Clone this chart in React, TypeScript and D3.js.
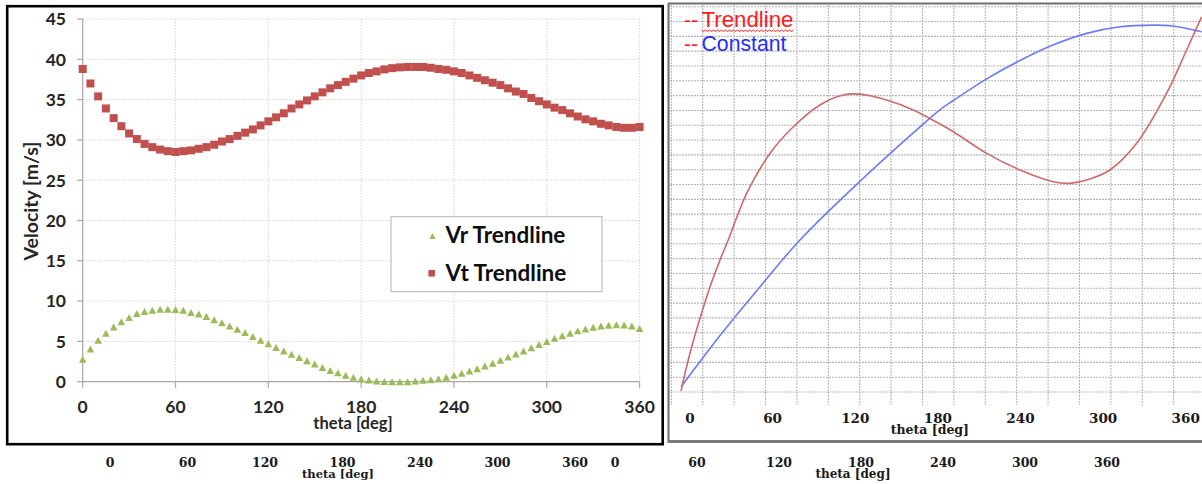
import React from "react";
import * as d3 from "d3";

// ---------- Left chart data ----------
const thetaDeg = [
  0, 5, 10, 15, 20, 25, 30, 35, 40, 45, 50, 55, 60, 65, 70, 75, 80, 85, 90, 95,
  100, 105, 110, 115, 120, 125, 130, 135, 140, 145, 150, 155, 160, 165, 170, 175,
  180, 185, 190, 195, 200, 205, 210, 215, 220, 225, 230, 235, 240, 245, 250, 255,
  260, 265, 270, 275, 280, 285, 290, 295, 300, 305, 310, 315, 320, 325, 330, 335,
  340, 345, 350, 355, 360,
];
const vrTrendline = [
  2.8, 4.05, 5.15, 6.0, 6.8, 7.45, 7.95, 8.45, 8.7, 8.85, 9.0, 9.0, 8.95, 8.85, 8.6, 8.4, 8.1, 7.7, 7.3, 6.9,
  6.5, 6.1, 5.6, 5.15, 4.7, 4.25, 3.8, 3.4, 3.0, 2.6, 2.2, 1.76, 1.4, 1.1, 0.8, 0.55,
  0.35, 0.2, 0.1, 0.02, 0.0, 0.0, 0.0, 0.08, 0.17, 0.25, 0.37, 0.54, 0.8, 1.05, 1.33, 1.62,
  1.95, 2.3, 2.65, 3.05, 3.45, 3.8, 4.2, 4.6, 5.0, 5.38, 5.7, 6.0, 6.33, 6.55, 6.75, 6.9,
  7.0, 7.07, 7.03, 6.9, 6.6,
];
const vtTrendline = [
  38.8, 37.0, 35.4, 33.9, 32.7, 31.7, 30.8, 30.1, 29.5, 29.1, 28.8, 28.6, 28.5, 28.6, 28.7, 28.9, 29.1, 29.4, 29.8, 30.1,
  30.5, 30.9, 31.3, 31.8, 32.3, 32.8, 33.3, 33.9, 34.4, 34.9, 35.4, 35.9, 36.4, 36.8, 37.2, 37.6,
  38.0, 38.3, 38.5, 38.75, 38.9, 39.0, 39.05, 39.05, 39.05, 38.95, 38.8, 38.7, 38.5, 38.3, 38.0, 37.7,
  37.4, 37.1, 36.8, 36.4, 36.0, 35.7, 35.2, 34.8, 34.4, 34.0, 33.7, 33.3, 32.9, 32.55, 32.3, 32.0,
  31.8, 31.6, 31.5, 31.5, 31.6,
];
const yTicks = [0, 5, 10, 15, 20, 25, 30, 35, 40, 45];
const xTicks = [0, 60, 120, 180, 240, 300, 360];
const legendLabels = ["Vr Trendline", "Vt Trendline"];

// ---------- Right chart data ----------
const trendTheta = [0, 6.5, 13.8, 21.1, 28.3, 34.3, 47.7, 64.6, 81.6, 100.9, 117.9, 130, 149.4, 168.7, 179.4, 197.8, 222, 246.2, 270.4, 282.5, 294.6, 311.5, 330.9, 352.7, 367.2, 378.1];
const trendValues = [0.07, 2.61, 4.97, 7.1, 8.9, 10.26, 13.4, 16.1, 17.9, 19.37, 20.04, 20.1, 19.7, 19.03, 18.52, 17.56, 16.1, 14.98, 14.19, 14.08, 14.3, 14.98, 16.78, 20.16, 23.08, 25.32];
const constTheta = [0, 29.6, 57.4, 86.4, 130, 173.6, 188, 197.8, 222, 246.2, 270.1, 294.6, 318.8, 342.8, 357.3, 378.1];
const constValues = [0.34, 3.96, 7.1, 10.26, 14.22, 17.89, 19.04, 19.67, 21.13, 22.37, 23.41, 24.2, 24.65, 24.76, 24.7, 24.31];
const rightRows = d3.range(0, 27);
const rightCols = d3.range(0, 17);

const SERIF = "'DejaVu Serif', serif";
const LATO = "Lato, 'Open Sans', sans-serif";
const ARIAL = "'Liberation Sans', Arial, sans-serif";

function triPath(w: number, h: number) {
  return `M0,${-h / 2}L${w / 2},${h / 2}L${-w / 2},${h / 2}Z`;
}

export default function App() {
  const W = 1202;
  const H = 484;

  // left chart scales
  const x = d3.scaleLinear().domain([0, 360]).range([82.7, 639.6]);
  const y = d3.scaleLinear().domain([0, 45]).range([381.7, 19]);

  // right chart scales
  const rx = d3.scaleLinear().domain([0, 360]).range([681, 1176.7]);
  const ry = d3.scaleLinear().domain([0, 26]).range([392, 6.7]);
  const gx = d3.scaleLinear().domain([0, 16]).range([671.3, 1173.7]);

  const rLine = d3
    .line<number>()
    .x((_, i) => rx(trendTheta[i]))
    .y((d) => ry(d))
    .curve(d3.curveCatmullRom);
  const cLine = d3
    .line<number>()
    .x((_, i) => rx(constTheta[i]))
    .y((d) => ry(d))
    .curve(d3.curveCatmullRom);

  // bottom duplicated axes
  const b1 = d3.scaleLinear().domain([0, 360]).range([110, 575]);
  const b2 = d3.scaleLinear().domain([0, 360]).range([615, 1107]);

  // wavy underline (spell-check squiggle)
  const wave = d3.range(0, 47).map((i) => [701.5 + i * 2, 30.8 + (i % 2 === 0 ? -1.1 : 1.1)] as [number, number]);
  const waveLine = d3.line().curve(d3.curveLinear)(wave) as string;

  const sq = 8;

  return (
    <svg
      width={W}
      height={H}
      style={{ position: "absolute", left: 0, top: 0, background: "#fff", display: "block" }}
    >
      <rect x={0} y={0} width={W} height={H} fill="#fff" />

      {/* ================= LEFT CHART ================= */}
      <rect x={7.2} y={6.2} width={655.5} height={438} fill="#fff" stroke="#000" strokeWidth={2.6} />

      {/* gridlines */}
      {yTicks.filter((t) => t > 0).map((t) => (
        <line key={"hy" + t} x1={x(0)} x2={x(360)} y1={y(t)} y2={y(t)} stroke="#d4d4d4" strokeWidth={1} strokeDasharray="1.5,1.5" />
      ))}
      {xTicks.filter((t) => t > 0).map((t) => (
        <line key={"vx" + t} x1={x(t)} x2={x(t)} y1={y(45)} y2={y(0)} stroke="#d4d4d4" strokeWidth={1} strokeDasharray="1.5,1.5" />
      ))}
      {/* axes */}
      <line x1={x(0)} x2={x(0)} y1={y(45)} y2={y(0)} stroke="#a6a6a6" strokeWidth={1.2} />
      <line x1={x(0)} x2={x(360)} y1={y(0)} y2={y(0)} stroke="#a6a6a6" strokeWidth={1.2} />
      {yTicks.map((t) => (
        <line key={"ty" + t} x1={x(0) - 5.5} x2={x(0)} y1={y(t)} y2={y(t)} stroke="#a6a6a6" strokeWidth={1.2} />
      ))}
      {xTicks.map((t) => (
        <line key={"tx" + t} x1={x(t)} x2={x(t)} y1={y(0)} y2={y(0) + 6} stroke="#a6a6a6" strokeWidth={1.2} />
      ))}
      {/* tick labels */}
      {yTicks.map((t) => (
        <text key={"ly" + t} x={66} y={y(t)} dy="0.36em" textAnchor="end" fontFamily={LATO} fontWeight={700} fontSize={17.5} fill="#262626">
          {t}
        </text>
      ))}
      {xTicks.map((t) => (
        <text key={"lx" + t} x={x(t)} y={412.8} textAnchor="middle" fontFamily={LATO} fontWeight={700} fontSize={17.5} fill="#262626">
          {t}
        </text>
      ))}
      <text x={353} y={428.5} textAnchor="middle" fontFamily={LATO} fontWeight={700} fontSize={16.5} fill="#262626">
        theta [deg]
      </text>
      <text transform="translate(37.5,201) rotate(-90)" textAnchor="middle" fontFamily={LATO} fontWeight={700} fontSize={19.5} fill="#262626">
        Velocity [m/s]
      </text>

      {/* series */}
      {thetaDeg.map((t, i) => (
        <rect key={"vt" + t} x={x(t) - sq / 2} y={y(vtTrendline[i]) - sq / 2} width={sq} height={sq} fill="#c0504d" />
      ))}
      {thetaDeg.map((t, i) => (
        <path key={"vr" + t} transform={`translate(${x(t)},${y(vrTrendline[i])})`} d={triPath(7.6, 7)} fill="#9bbb59" />
      ))}

      {/* legend */}
      <rect x={391} y={216.7} width={211} height={75} fill="#fff" stroke="#b3b3b3" strokeWidth={1} />
      <path transform="translate(432.5,236)" d={triPath(6, 6)} fill="#9bbb59" />
      <rect x={431.7 - 3.3} y={273.3 - 3.3} width={6.6} height={6.6} fill="#c0504d" />
      <text x={445.5} y={242.5} fontFamily={LATO} fontWeight={700} fontSize={22.5} fill="#0d0d0d">
        {legendLabels[0]}
      </text>
      <text x={445.5} y={280.5} fontFamily={LATO} fontWeight={700} fontSize={22.5} fill="#0d0d0d">
        {legendLabels[1]}
      </text>

      {/* ================= RIGHT CHART ================= */}
      {rightRows.map((r) => (
        <line key={"rr" + r} x1={670} x2={W} y1={ry(r)} y2={ry(r)} stroke="#b5b5b5" strokeWidth={1.1} strokeDasharray="2,1" />
      ))}
      {rightCols.map((c) => (
        <line key={"rc" + c} x1={gx(c)} x2={gx(c)} y1={5} y2={405} stroke="#b5b5b5" strokeWidth={1.1} strokeDasharray="2,1" />
      ))}
      <path d={cLine(constValues) as string} fill="none" stroke="#6b7cf2" strokeWidth={1.6} />
      <path d={rLine(trendValues) as string} fill="none" stroke="#cd6a6a" strokeWidth={1.6} />

      {/* right frame */}
      <line x1={668.5} x2={668.5} y1={3} y2={443} stroke="#6e6e6e" strokeWidth={2} />
      <line x1={668} x2={W} y1={3.5} y2={3.5} stroke="#6e6e6e" strokeWidth={2} />
      <line x1={668} x2={W} y1={441.5} y2={441.5} stroke="#7a7a7a" strokeWidth={3} />

      {/* right legend */}
      <text x={684} y={26.5} fontFamily={ARIAL} fontSize={21} fill="#ff1a1a">
        --
      </text>
      <text x={701.5} y={26.5} fontFamily={ARIAL} fontSize={21.5} fill="#ff1a1a" textLength={92} lengthAdjust="spacingAndGlyphs">
        Trendline
      </text>
      <path d={waveLine} fill="none" stroke="#ff2a2a" strokeWidth={1} />
      <text x={684} y={50.5} fontFamily={ARIAL} fontSize={21} fill="#ff1a1a">
        --
      </text>
      <text x={701.5} y={50.5} fontFamily={ARIAL} fontSize={21.5} fill="#1f2cff" textLength={85} lengthAdjust="spacingAndGlyphs">
        Constant
      </text>

      {/* right tick labels */}
      {xTicks.map((t) => (
        <text key={"rl" + t} x={rx(t) + 9} y={422.5} textAnchor="middle" fontFamily={SERIF} fontWeight={700} fontSize={13.5} fill="#1a1a1a">
          {t}
        </text>
      ))}
      <text x={rx(180) + 1} y={434} textAnchor="middle" fontFamily={SERIF} fontWeight={700} fontSize={12.5} fill="#1a1a1a">
        theta [deg]
      </text>

      {/* ================= BOTTOM ROW ================= */}
      {xTicks.map((t) => (
        <text key={"b1" + t} x={b1(t)} y={467} textAnchor="middle" fontFamily={SERIF} fontWeight={700} fontSize={12.5} fill="#1a1a1a">
          {t}
        </text>
      ))}
      <text x={b1(180) - 4.5} y={477.5} textAnchor="middle" fontFamily={SERIF} fontWeight={700} fontSize={11.5} fill="#1a1a1a">
        theta [deg]
      </text>
      {xTicks.map((t) => (
        <text key={"b2" + t} x={b2(t)} y={467} textAnchor="middle" fontFamily={SERIF} fontWeight={700} fontSize={12.5} fill="#1a1a1a">
          {t}
        </text>
      ))}
      <text x={b2(180) - 8} y={477.5} textAnchor="middle" fontFamily={SERIF} fontWeight={700} fontSize={12} fill="#1a1a1a">
        theta [deg]
      </text>
    </svg>
  );
}
